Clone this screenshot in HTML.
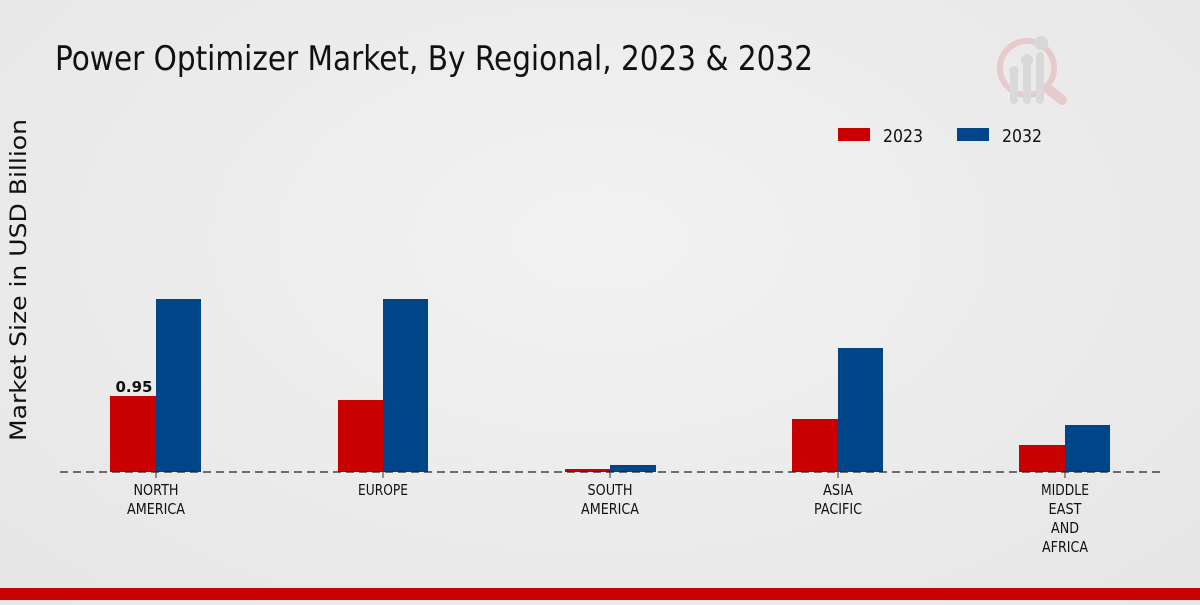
<!DOCTYPE html>
<html><head><meta charset="utf-8"><style>
html,body{margin:0;padding:0;}
body{width:1200px;height:600px;overflow:hidden;background:radial-gradient(ellipse at 50% 40%,#f2f2f2 0%,#e6e6e6 100%);}
svg text{font-family:"DejaVu Sans","Liberation Sans",sans-serif;}
</style></head><body>
<svg width="1200" height="600" viewBox="0 0 1200 600" xmlns="http://www.w3.org/2000/svg">
<text x="55" y="70" font-size="34" fill="#111" textLength="758" lengthAdjust="spacingAndGlyphs">Power Optimizer Market, By Regional, 2023 &amp; 2032</text>
<g opacity="0.5">
<circle cx="1027" cy="68" r="27" fill="none" stroke="#e3aab0" stroke-width="6"/>
<line x1="1047" y1="88" x2="1062" y2="100" stroke="#e3aab0" stroke-width="10" stroke-linecap="round"/>
<rect x="1010" y="72" width="8" height="32" rx="4" fill="#c8c8c8"/>
<rect x="1023" y="62" width="8" height="42" rx="4" fill="#c8c8c8"/>
<rect x="1036" y="52" width="8" height="52" rx="4" fill="#c8c8c8"/>
<circle cx="1014" cy="71" r="5" fill="#c8c8c8"/><circle cx="1027" cy="60" r="6" fill="#c8c8c8"/><circle cx="1041" cy="43" r="7" fill="#c8c8c8"/>
</g>
<rect x="838" y="128" width="32" height="13" fill="#c80000"/>
<text x="883" y="142" font-size="18" fill="#111" textLength="40" lengthAdjust="spacingAndGlyphs">2023</text>
<rect x="957" y="128" width="32" height="13" fill="#004587"/>
<text x="1002" y="142" font-size="18" fill="#111" textLength="40" lengthAdjust="spacingAndGlyphs">2032</text>
<text transform="translate(26,280) rotate(-90)" text-anchor="middle" font-size="22" fill="#111" textLength="322" lengthAdjust="spacingAndGlyphs">Market Size in USD Billion</text>
<g fill="#c80000">
<rect x="110" y="396" width="46" height="76"/>
<rect x="338" y="400" width="45" height="72"/>
<rect x="565" y="469" width="45" height="3"/>
<rect x="792" y="419" width="46" height="53"/>
<rect x="1019" y="445" width="46" height="27"/>
</g>
<g fill="#004587">
<rect x="156" y="299" width="45" height="173"/>
<rect x="383" y="299" width="45" height="173"/>
<rect x="610" y="465" width="46" height="7"/>
<rect x="838" y="348" width="45" height="124"/>
<rect x="1065" y="425" width="45" height="47"/>
</g>
<line x1="60" y1="472" x2="1160" y2="472" stroke="#222" stroke-width="1.2" stroke-dasharray="8,5"/>
<text x="134" y="392" text-anchor="middle" font-size="15" font-weight="bold" fill="#111">0.95</text>
<g stroke="#333"><line x1="156" y1="472" x2="156" y2="478"/><line x1="383" y1="472" x2="383" y2="478"/><line x1="610" y1="472" x2="610" y2="478"/><line x1="838" y1="472" x2="838" y2="478"/><line x1="1065" y1="472" x2="1065" y2="478"/></g>
<g font-size="15" fill="#111" text-anchor="middle" lengthAdjust="spacingAndGlyphs">
<text x="156" y="495" textLength="45" lengthAdjust="spacingAndGlyphs">NORTH</text><text x="156" y="514" textLength="58" lengthAdjust="spacingAndGlyphs">AMERICA</text>
<text x="383" y="495" textLength="50" lengthAdjust="spacingAndGlyphs">EUROPE</text>
<text x="610" y="495" textLength="45" lengthAdjust="spacingAndGlyphs">SOUTH</text><text x="610" y="514" textLength="58" lengthAdjust="spacingAndGlyphs">AMERICA</text>
<text x="838" y="495" textLength="30" lengthAdjust="spacingAndGlyphs">ASIA</text><text x="838" y="514" textLength="48" lengthAdjust="spacingAndGlyphs">PACIFIC</text>
<text x="1065" y="495" textLength="48" lengthAdjust="spacingAndGlyphs">MIDDLE</text><text x="1065" y="514" textLength="33" lengthAdjust="spacingAndGlyphs">EAST</text><text x="1065" y="533" textLength="28" lengthAdjust="spacingAndGlyphs">AND</text><text x="1065" y="552" textLength="46" lengthAdjust="spacingAndGlyphs">AFRICA</text>
</g>
<rect x="0" y="588" width="1200" height="12" fill="#c80000"/>
</svg>
</body></html>
